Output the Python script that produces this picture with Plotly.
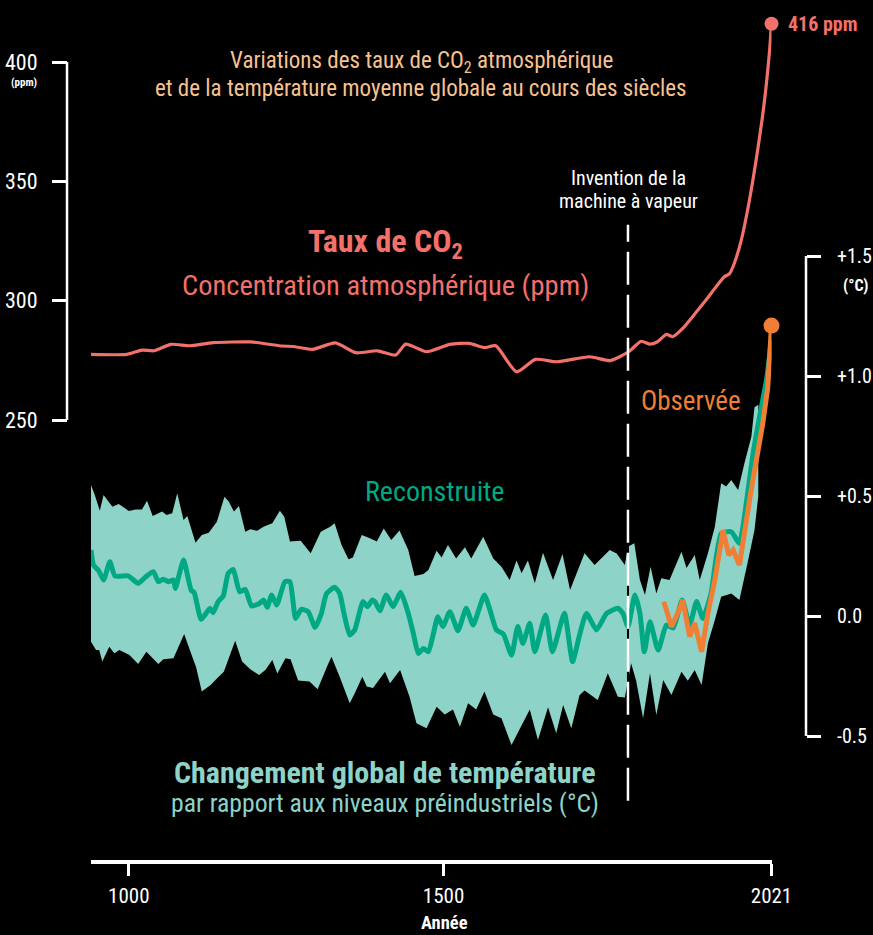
import plotly.graph_objects as go

# ---------------- data ----------------
co2_years = [940, 997, 1021, 1040, 1067, 1097, 1134, 1194, 1243, 1261, 1292, 1328, 1361, 1395,
             1424, 1440, 1473, 1510, 1541, 1565, 1583, 1616, 1646, 1680, 1732, 1765, 1794, 1814,
             1827, 1840, 1854, 1864, 1880, 1899, 1917, 1933, 1946, 1954, 1962, 1973, 1986, 1999,
             2010, 2018, 2021]
co2_ppm = [277.5, 277.5, 279.3, 279.0, 281.7, 281.1, 282.4, 282.7, 281.0, 280.8, 279.6, 282.3,
           278.2, 279.0, 277.2, 281.8, 278.6, 281.7, 282.1, 280.3, 281.1, 270.2, 275.4, 274.4,
           276.5, 274.9, 278.6, 283.0, 281.8, 282.8, 285.9, 284.9, 288.4, 294.4, 300.3, 305.8,
           310.0, 311.2, 315.7, 325.4, 342.2, 363.1, 384.1, 405.0, 416.0]

recon_years = [940, 944, 952, 960, 970, 978, 999, 1015, 1026, 1039, 1047, 1055, 1063, 1071, 1074,
               1087, 1099, 1104, 1115, 1129, 1134, 1142, 1150, 1158, 1166, 1176, 1185, 1195, 1208,
               1214, 1220, 1227, 1235, 1248, 1256, 1265, 1274, 1285, 1296, 1306, 1314, 1327, 1335,
               1343, 1351, 1359, 1372, 1379, 1387, 1391, 1399, 1409, 1420, 1432, 1444, 1452, 1460,
               1468, 1476, 1484, 1491, 1499, 1510, 1523, 1536, 1547, 1555, 1565, 1573, 1584, 1595,
               1608, 1618, 1626, 1637, 1645, 1662, 1673, 1692, 1705, 1716, 1727, 1743, 1759, 1777,
               1785, 1793, 1804, 1812, 1819, 1828, 1841, 1854, 1865, 1879, 1891, 1902, 1912, 1925,
               1941, 1957, 1970, 1981, 1991, 2002, 2013, 2021]
recon_mean = [0.275, 0.212, 0.19, 0.15, 0.226, 0.167, 0.167, 0.136, 0.161, 0.185, 0.143, 0.153,
              0.143, 0.15, 0.115, 0.233, 0.108, 0.097, -0.014, 0.032, 0.014, 0.06, 0.083, 0.178,
              0.194, 0.101, 0.111, 0.042, 0.053, 0.067, 0.036, 0.088, 0.046, 0.143, 0.143, -0.01,
              0.028, 0.018, -0.047, 0.011, 0.092, 0.12, 0.094, -0.003, -0.079, -0.058, 0.06, 0.039,
              0.067, 0.06, 0.022, 0.088, 0.039, 0.099, 0.011, -0.072, -0.156, -0.135, -0.149,
              -0.072, -0.003, -0.044, 0.018, -0.061, 0.032, -0.038, 0.018, 0.088, 0.032, -0.058,
              -0.075, -0.163, -0.044, -0.114, -0.03, -0.149, 0.004, -0.149, 0.011, -0.19, -0.08,
              0.011, -0.058, 0.011, 0.032, 0.011, -0.044, 0.088, 0.011, -0.149, -0.024, -0.142,
              -0.038, -0.05, 0.067, -0.038, 0.06, -0.01, 0.094, 0.344, 0.351, 0.303, 0.47, 0.664,
              0.83, 0.983, 1.15]

upper_years = [940, 946, 954, 960, 974, 984, 1000, 1011, 1021, 1029, 1038, 1053, 1060, 1069, 1077,
               1087, 1093, 1106, 1116, 1127, 1140, 1152, 1159, 1167, 1175, 1185, 1193, 1204, 1214,
               1228, 1240, 1247, 1256, 1273, 1289, 1305, 1320, 1327, 1338, 1349, 1356, 1370, 1383,
               1394, 1405, 1417, 1430, 1444, 1454, 1468, 1476, 1489, 1497, 1507, 1520, 1534, 1544,
               1563, 1579, 1592, 1605, 1616, 1624, 1634, 1645, 1658, 1674, 1689, 1701, 1710, 1724,
               1740, 1764, 1775, 1788, 1793, 1803, 1812, 1820, 1829, 1838, 1846, 1859, 1878, 1886,
               1899, 1907, 1920, 1931, 1941, 1949, 1957, 1968, 1978, 1989, 1994, 2000]
upper_vals = [0.546, 0.504, 0.439, 0.504, 0.455, 0.467, 0.438, 0.444, 0.444, 0.48, 0.417, 0.435,
              0.421, 0.428, 0.511, 0.4, 0.417, 0.305, 0.338, 0.347, 0.393, 0.497, 0.476, 0.435,
              0.458, 0.351, 0.361, 0.355, 0.372, 0.386, 0.439, 0.414, 0.31, 0.314, 0.261, 0.351,
              0.372, 0.386, 0.296, 0.236, 0.244, 0.338, 0.324, 0.31, 0.365, 0.317, 0.356, 0.275,
              0.167, 0.175, 0.192, 0.272, 0.244, 0.296, 0.24, 0.286, 0.24, 0.33, 0.24, 0.205, 0.15,
              0.231, 0.178, 0.231, 0.136, 0.264, 0.15, 0.258, 0.108, 0.17, 0.261, 0.213, 0.275,
              0.26, 0.213, 0.289, 0.303, 0.15, 0.088, 0.205, 0.094, 0.157, 0.15, 0.268, 0.2, 0.254,
              0.15, 0.261, 0.372, 0.553, 0.54, 0.567, 0.525, 0.636, 0.747, 0.87, 0.88]

lower_years = [940, 948, 953, 958, 969, 977, 985, 1001, 1015, 1028, 1047, 1055, 1071, 1088, 1098,
               1107, 1116, 1130, 1140, 1151, 1169, 1180, 1193, 1207, 1217, 1228, 1236, 1249, 1257,
               1269, 1287, 1300, 1316, 1322, 1335, 1351, 1359, 1371, 1378, 1388, 1407, 1415, 1431,
               1446, 1457, 1473, 1489, 1502, 1515, 1526, 1539, 1552, 1565, 1579, 1592, 1608, 1621,
               1637, 1650, 1666, 1679, 1690, 1703, 1716, 1724, 1745, 1761, 1777, 1788, 1798, 1806,
               1817, 1828, 1838, 1849, 1862, 1878, 1888, 1899, 1910, 1920, 1931, 1941, 1957, 1970,
               1984, 1994, 2000]
lower_vals = [-0.107, -0.142, -0.142, -0.19, -0.128, -0.155, -0.142, -0.163, -0.2, -0.149, -0.2,
              -0.18, -0.176, -0.075, -0.149, -0.214, -0.315, -0.288, -0.26, -0.232, -0.103, -0.19,
              -0.222, -0.246, -0.225, -0.183, -0.24, -0.176, -0.18, -0.269, -0.273, -0.305, -0.204,
              -0.17, -0.253, -0.364, -0.322, -0.253, -0.294, -0.3, -0.232, -0.28, -0.225, -0.336,
              -0.447, -0.468, -0.378, -0.41, -0.39, -0.461, -0.364, -0.39, -0.315, -0.41, -0.426,
              -0.538, -0.475, -0.39, -0.517, -0.38, -0.489, -0.371, -0.468, -0.33, -0.31, -0.35,
              -0.239, -0.336, -0.34, -0.197, -0.27, -0.426, -0.239, -0.413, -0.267, -0.329, -0.232,
              -0.27, -0.225, -0.288, -0.114, -0.017, 0.08, 0.094, 0.067, 0.233, 0.358, 0.5]

obs_years = [1850, 1862, 1872, 1880, 1891, 1899, 1910, 1920, 1931, 1944, 1953, 1960, 1970, 1978,
             1989, 1999, 2007, 2015, 2021]
obs_vals = [0.06, -0.044, 0.011, 0.067, -0.086, -0.03, -0.149, 0.011, 0.15, 0.358, 0.254, 0.275,
            0.2125, 0.36, 0.53, 0.68, 0.8, 0.95, 1.21]

year_ticks = [1000, 1500, 2021]
co2_ticks = [250, 300, 350, 400]
temp_ticks = [-0.5, 0.0, 0.5, 1.0, 1.5]
temp_ticktext = ["-0.5", "0.0", "+0.5", "+1.0", "+1.5"]
steam_year = 1793
co2_last = 416

# ---------------- styling ----------------
W, H = 873, 935
FONT = "Noto Sans Condensed, Roboto Condensed, Roboto, sans-serif"
SALMON = "#F2716B"
PEACH = "#F7C290"
BAND = "#8DD3C7"
GREEN = "#00A884"
ORANGE = "#F07E34"
WHITE = "#FFFFFF"

def px(xp):
    return xp / W

def py(yp):
    return 1 - yp / H

co2_lo = 250 - (H - 420) * 150 / 358
co2_hi = 400 + 62 * 150 / 358
t_lo = 0 - (H - 616) / 240
t_hi = 616 / 240

fig = go.Figure()

fig.add_trace(go.Scatter(
    x=upper_years + lower_years[::-1], y=upper_vals + lower_vals[::-1],
    fill="toself", fillcolor=BAND, line=dict(width=0), mode="lines",
    yaxis="y2", hoverinfo="skip", showlegend=False))

fig.add_trace(go.Scatter(x=recon_years, y=recon_mean, mode="lines",
                         line=dict(color=GREEN, width=5, shape="spline", smoothing=0.5),
                         yaxis="y2", showlegend=False))

fig.add_trace(go.Scatter(x=obs_years, y=obs_vals, mode="lines",
                         line=dict(color=ORANGE, width=5), yaxis="y2", showlegend=False))
fig.add_trace(go.Scatter(x=[obs_years[-1]], y=[obs_vals[-1]], mode="markers",
                         marker=dict(color=ORANGE, size=16), yaxis="y2",
                         cliponaxis=False, showlegend=False))

fig.add_trace(go.Scatter(x=co2_years, y=co2_ppm, mode="lines",
                         line=dict(color=SALMON, width=3.2, shape="spline", smoothing=0.6),
                         yaxis="y", showlegend=False))
fig.add_trace(go.Scatter(x=[co2_years[-1]], y=[co2_last], mode="markers",
                         marker=dict(color=SALMON, size=14), yaxis="y",
                         cliponaxis=False, showlegend=False))

shapes = [
    dict(type="line", xref="paper", yref="y", x0=px(67), x1=px(67), y0=co2_ticks[0],
         y1=co2_ticks[-1], line=dict(color=WHITE, width=2.5)),
    dict(type="line", xref="paper", yref="y2", x0=px(806), x1=px(806), y0=temp_ticks[0],
         y1=temp_ticks[-1], line=dict(color=WHITE, width=2.5)),
    dict(type="line", xref="x", yref="y2", x0=steam_year, x1=steam_year, y0=-0.77, y1=1.63,
         line=dict(color="#000000", width=2), layer="above"),
    dict(type="line", xref="x", yref="y2", x0=steam_year, x1=steam_year, y0=-0.77, y1=1.63,
         line=dict(color=WHITE, width=2.5, dash="33px,10px"), layer="above"),
]

ann = []

def txt(x, y, text, size, color, bold=False, xanchor="center", yanchor="middle", **kw):
    if bold:
        text = "<b>" + text + "</b>"
    d = dict(xref="paper", yref="paper", x=px(x), y=py(y), text=text, showarrow=False,
             font=dict(family=FONT, size=size, color=color), xanchor=xanchor, yanchor=yanchor)
    d.update(kw)
    ann.append(d)

txt(421, 62, "Variations des taux de CO<sub>2</sub> atmosphérique", 23, PEACH)
txt(421, 88, "et de la température moyenne globale au cours des siècles", 23, PEACH)
txt(385, 243, "Taux de CO<sub>2</sub>", 32, SALMON, bold=True)
txt(385, 285, "Concentration atmosphérique (ppm)", 28.5, SALMON)
txt(628, 178, "Invention de la", 20, WHITE)
txt(628, 201, "machine à vapeur", 20, WHITE)
txt(691, 401, "Observée", 27, ORANGE)
txt(435, 491, "Reconstruite", 28, GREEN)
txt(385, 772, "Changement global de température", 30, BAND, bold=True)
txt(385, 803, "par rapport aux niveaux préindustriels (°C)", 25.7, BAND)
txt(24, 83, "(ppm)", 11, WHITE, bold=True)
txt(855, 285, "(°C)", 16, WHITE, bold=True)
txt(444, 923, "Année", 18.5, WHITE, bold=True)
ann.append(dict(xref="x", yref="y", x=co2_years[-1], y=co2_last, text="<b>416 ppm</b>",
                showarrow=False, xanchor="left", yanchor="middle", xshift=14,
                font=dict(family=FONT, size=20, color=SALMON)))

fig.update_layout(
    template="none",
    width=W, height=H, autosize=False, margin=dict(l=0, r=0, t=0, b=0, autoexpand=False),
    paper_bgcolor="#000000", plot_bgcolor="#000000",
    font=dict(family=FONT, color=WHITE),
    showlegend=False,
    xaxis=dict(domain=[px(91), px(771.5)], range=[940, 2021], anchor="free", position=py(862),
               automargin=False,
               showline=True, linecolor=WHITE, linewidth=4, ticks="outside", ticklen=12,
               tickwidth=3, tickcolor=WHITE, tickvals=year_ticks,
               tickfont=dict(family=FONT, size=21, color=WHITE), ticklabelstandoff=2,
               showgrid=False, zeroline=False),
    yaxis=dict(domain=[0, 1], range=[co2_lo, co2_hi], anchor="free", position=px(67),
               automargin=False,
               side="left", showline=False, ticks="outside", ticklen=15, tickwidth=2.5,
               tickcolor=WHITE, tickvals=co2_ticks,
               tickfont=dict(family=FONT, size=22, color=WHITE), ticklabelstandoff=10,
               showgrid=False, zeroline=False),
    yaxis2=dict(domain=[0, 1], range=[t_lo, t_hi], overlaying="y", anchor="free",
                automargin=False,
                position=px(806), side="right", showline=False, ticks="outside", ticklen=14,
                tickwidth=2.5, tickcolor=WHITE, tickvals=temp_ticks, ticktext=temp_ticktext,
                tickfont=dict(family=FONT, size=20, color=WHITE), ticklabelstandoff=12,
                showgrid=False, zeroline=False),
    shapes=shapes, annotations=ann,
)

fig.write_html("out.html", config=dict(displayModeBar=False, responsive=False),
               post_script="document.body.style.margin='0';document.body.style.overflow='hidden';")
